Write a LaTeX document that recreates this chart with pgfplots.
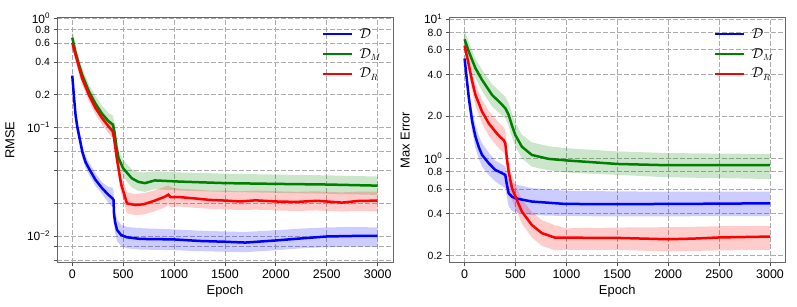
\documentclass[border=0pt]{standalone}
\usepackage{pgfplots}
\pgfplotsset{compat=1.18}
\usepackage{pgfplotstable}
\usepgfplotslibrary{fillbetween}
\usepackage{fontspec}
\setmainfont{Liberation Sans}

\newcommand{\sm}[1]{{\fontsize{10.5}{11}\selectfont #1}}
\newcommand{\tp}[1]{10\textsuperscript{#1}}

% ---------- RMSE (left) ----------
\pgfplotstableread{
x m lo hi
0 0.30 0.27 0.355
15 0.20 0.175 0.235
32 0.131 0.114 0.152
50 0.100 0.087 0.116
65 0.0857 0.075 0.099
98 0.060 0.053 0.069
130 0.048 0.0425 0.055
163 0.042 0.037 0.048
228 0.0329 0.0288 0.0378
293 0.0276 0.0245 0.0312
350 0.0242 0.0205 0.0285
395 0.0222 0.0186 0.0278
405 0.0215 0.0178 0.0262
410 0.0160 0.0130 0.0198
420 0.0135 0.0108 0.0168
440 0.01135 0.0090 0.0142
480 0.0102 0.0081 0.0127
537 0.00973 0.0077 0.0121
667 0.0094 0.0075 0.0118
1000 0.0093 0.0074 0.0115
1250 0.0090 0.00725 0.0112
1500 0.00885 0.00716 0.0110
1700 0.0087 0.0071 0.0109
2000 0.0091 0.0074 0.0113
2250 0.0095 0.0077 0.0117
2500 0.0099 0.0079 0.0120
2750 0.0100 0.0080 0.0121
3000 0.0100 0.0080 0.0120
}\LD
\pgfplotstableread{
x m lo hi
0 0.67 0.60 0.80
30 0.50 0.44 0.58
65 0.38 0.335 0.44
100 0.30 0.265 0.35
163 0.215 0.19 0.25
228 0.165 0.145 0.195
293 0.133 0.116 0.158
357 0.114 0.099 0.136
400 0.106 0.091 0.128
415 0.090 0.077 0.108
435 0.065 0.055 0.078
455 0.052 0.044 0.062
500 0.042 0.035 0.050
585 0.034 0.028 0.041
650 0.0315 0.026 0.0388
715 0.0307 0.0255 0.0385
810 0.0325 0.027 0.0395
1058 0.0317 0.0262 0.0385
1500 0.0307 0.0255 0.0375
2000 0.0302 0.0250 0.0368
2500 0.0298 0.0245 0.0362
3000 0.0291 0.0239 0.0353
}\LM
\pgfplotstableread{
x m lo hi
0 0.60 0.53 0.70
32 0.469 0.41 0.54
95 0.286 0.25 0.33
163 0.200 0.175 0.23
228 0.151 0.132 0.175
293 0.122 0.106 0.142
357 0.102 0.088 0.119
395 0.093 0.080 0.109
410 0.080 0.068 0.094
440 0.050 0.042 0.060
480 0.030 0.025 0.037
537 0.020 0.0162 0.0252
618 0.0193 0.0156 0.0244
700 0.0196 0.0158 0.0248
800 0.0210 0.0168 0.0262
900 0.0228 0.0182 0.0282
944 0.0240 0.0192 0.0292
965 0.0228 0.0185 0.0282
1058 0.0228 0.0187 0.0272
1200 0.0222 0.0182 0.0268
1350 0.0215 0.0178 0.0262
1500 0.0212 0.0176 0.0262
1650 0.0208 0.0173 0.0258
1800 0.0213 0.0175 0.0262
2000 0.0208 0.0172 0.0258
2200 0.0206 0.0170 0.0255
2400 0.0211 0.0172 0.0258
2500 0.0208 0.0170 0.0255
2650 0.0203 0.0168 0.0252
2800 0.0210 0.0170 0.0256
3000 0.0212 0.0168 0.0256
}\LR

% ---------- Max Error (right) ----------
\pgfplotstableread{
x m lo hi
0 5.2 4.8 5.6
20 3.8 3.4 4.3
42 2.70 2.35 3.15
75 1.83 1.55 2.20
107 1.43 1.18 1.73
140 1.20 0.99 1.45
172 1.056 0.87 1.28
238 0.92 0.76 1.10
303 0.824 0.68 0.96
370 0.78 0.63 0.90
400 0.759 0.61 0.87
415 0.65 0.53 0.80
433 0.561 0.45 0.70
465 0.53 0.42 0.67
498 0.516 0.41 0.65
661 0.489 0.39 0.61
986 0.47 0.385 0.585
1500 0.468 0.382 0.578
2000 0.470 0.383 0.576
2500 0.472 0.384 0.576
3000 0.475 0.385 0.577
}\RD
\pgfplotstableread{
x m lo hi
0 7.15 6.3 8.34
42 5.82 5.0 6.8
107 4.43 3.75 5.2
172 3.65 3.05 4.3
270 2.85 2.35 3.4
350 2.50 2.08 3.0
400 2.29 1.94 2.77
433 2.05 1.70 2.50
465 1.72 1.42 2.10
498 1.47 1.22 1.80
563 1.21 1.00 1.48
661 1.056 0.87 1.30
824 0.99 0.82 1.22
1000 0.965 0.79 1.18
1500 0.91 0.76 1.12
2000 0.891 0.73 1.09
2500 0.891 0.72 1.08
3000 0.894 0.71 1.074
}\RM
\pgfplotstableread{
x m lo hi
0 6.43 5.8 7.3
42 4.67 4.0 5.4
75 3.55 3.0 4.2
107 2.85 2.38 3.4
172 2.16 1.78 2.62
238 1.78 1.45 2.18
303 1.55 1.26 1.92
350 1.42 1.15 1.76
384 1.35 1.10 1.67
400 1.28 1.05 1.60
415 1.00 0.82 1.24
433 0.80 0.66 0.98
466 0.61 0.50 0.75
514 0.50 0.41 0.61
563 0.414 0.34 0.51
661 0.332 0.27 0.41
759 0.29 0.235 0.36
889 0.269 0.218 0.33
1000 0.269 0.22 0.314
1500 0.268 0.22 0.318
2000 0.262 0.214 0.32
2250 0.265 0.216 0.322
2500 0.270 0.218 0.325
3000 0.274 0.22 0.327
}\RR

\definecolor{mgreen}{rgb}{0,0.5,0}

\pgfplotsset{every axis/.append style={
  scale only axis, width=336bp, height=245.5bp,
  xmin=-150, xmax=3150,
  xtick={0,500,1000,1500,2000,2500,3000},
  grid=major,
  grid style={gray!65, dash pattern=on 4.5bp off 2.5bp, line width=0.9bp},
  axis line style={black!60, line width=1bp},
  tick align=outside, xtick pos=bottom, ytick pos=left,
  major tick length=3.5bp, tick style={black!70, line width=0.9bp},
  tick label style={font=\fontsize{12.5}{13}\selectfont},
  yticklabel style={font=\fontsize{12}{13}\selectfont},
  /pgf/number format/assume math mode=true,
  /pgf/number format/1000 sep={},
  xlabel={Epoch},
  label style={font=\fontsize{13}{14}\selectfont},
  xlabel style={at={(axis description cs:0.5,-0.115)}, anchor=center},
  legend style={draw=none, fill=none, at={(0.787,0.962)}, anchor=north west,
    inner sep=0pt, row sep=5.5bp, column sep=5bp,
    nodes={inner sep=1.5bp, font=\fontsize{13.5}{14}\selectfont}},
  legend cell align=left,
  legend image code/.code={\draw[#1] (0bp,0bp) -- (29bp,0bp);},
}}

\begin{document}
\begin{tikzpicture}
% ===== left =====
\begin{axis}[at={(57bp,44bp)}, anchor=south west, ymode=log,
  ymin=0.00564, ymax=1.03, ylabel={RMSE},
  ylabel style={at={(axis description cs:-0.140,0.5)}, anchor=center},
  ytick={0.006,0.008,0.01,0.02,0.04,0.06,0.08,0.1,0.2,0.4,0.6,0.8,1},
  yticklabels={,,\tp{−2},,,,,\tp{−1},\sm{0.2},\sm{0.4},\sm{0.6},\raisebox{-1bp}{\sm{0.8}},\raisebox{1.5bp}{\tp{0}}},
]
\addplot[draw=none, forget plot, name path=lbh] table[x=x,y=hi]{\LD};
\addplot[draw=none, forget plot, name path=lbl] table[x=x,y=lo]{\LD};
\addplot[fill=blue, fill opacity=0.2, draw=none, forget plot] fill between[of=lbh and lbl];
\addplot[draw=none, forget plot, name path=lgh] table[x=x,y=hi]{\LM};
\addplot[draw=none, forget plot, name path=lgl] table[x=x,y=lo]{\LM};
\addplot[fill=mgreen, fill opacity=0.2, draw=none, forget plot] fill between[of=lgh and lgl];
\addplot[draw=none, forget plot, name path=lrh] table[x=x,y=hi]{\LR};
\addplot[draw=none, forget plot, name path=lrl] table[x=x,y=lo]{\LR};
\addplot[fill=red, fill opacity=0.2, draw=none, forget plot] fill between[of=lrh and lrl];
\addplot[blue, line width=2.5bp] table[x=x,y=m]{\LD};
\addlegendentry{$\mathcal{D}$}
\addplot[mgreen, line width=2.5bp] table[x=x,y=m]{\LM};
\addlegendentry{$\mathcal{D}_M$}
\addplot[red, line width=2.5bp] table[x=x,y=m]{\LR};
\addlegendentry{$\mathcal{D}_R$}
\end{axis}
% ===== right =====
\begin{axis}[at={(449.3bp,44bp)}, anchor=south west, ymode=log,
  ymin=0.177, ymax=10.25, ylabel={Max Error},
  ylabel style={at={(axis description cs:-0.131,0.5)}, anchor=center},
  ytick={0.2,0.4,0.6,0.8,1,2,4,6,8,10},
  yticklabels={\sm{0.2},\sm{0.4},\sm{0.6},\sm{0.8},\tp{0},\sm{2.0},\sm{4.0},\sm{6.0},\sm{8.0},\tp{1}},
]
\addplot[draw=none, forget plot, name path=rbh] table[x=x,y=hi]{\RD};
\addplot[draw=none, forget plot, name path=rbl] table[x=x,y=lo]{\RD};
\addplot[fill=blue, fill opacity=0.2, draw=none, forget plot] fill between[of=rbh and rbl];
\addplot[draw=none, forget plot, name path=rgh] table[x=x,y=hi]{\RM};
\addplot[draw=none, forget plot, name path=rgl] table[x=x,y=lo]{\RM};
\addplot[fill=mgreen, fill opacity=0.2, draw=none, forget plot] fill between[of=rgh and rgl];
\addplot[draw=none, forget plot, name path=rrh] table[x=x,y=hi]{\RR};
\addplot[draw=none, forget plot, name path=rrl] table[x=x,y=lo]{\RR};
\addplot[fill=red, fill opacity=0.2, draw=none, forget plot] fill between[of=rrh and rrl];
\addplot[blue, line width=2.5bp] table[x=x,y=m]{\RD};
\addlegendentry{$\mathcal{D}$}
\addplot[mgreen, line width=2.5bp] table[x=x,y=m]{\RM};
\addlegendentry{$\mathcal{D}_M$}
\addplot[red, line width=2.5bp] table[x=x,y=m]{\RR};
\addlegendentry{$\mathcal{D}_R$}
\end{axis}
\path (0,0) rectangle (797bp,307bp);
\end{tikzpicture}
\end{document}
